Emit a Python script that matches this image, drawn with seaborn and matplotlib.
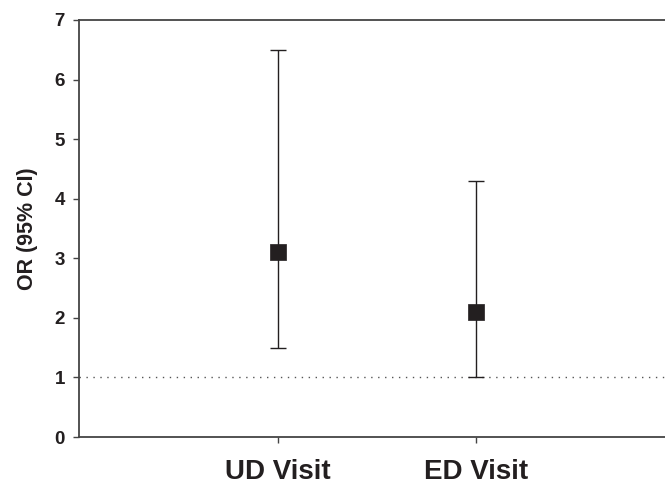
import pandas as pd
import matplotlib
matplotlib.use("Agg")
import matplotlib.pyplot as plt
import seaborn as sns

# Datos
categories = ["UD Visit", "ED Visit"]
odds_ratio = [3.1, 2.1]
ci_low = [1.5, 1.0]
ci_high = [6.5, 4.3]
y_ticks = [0, 1, 2, 3, 4, 5, 6, 7]


def main():
    sns.set_style("white")
    plt.rcParams['font.family'] = ['Liberation Sans', 'DejaVu Sans']

    df = pd.DataFrame({
        "visit": categories,
        "pos": [1, 2],
        "or": odds_ratio,
        "lo": ci_low,
        "hi": ci_high,
    })

    ink = "#231f20"
    fig = plt.figure(figsize=(6.65, 4.87), dpi=100)
    ax = fig.add_axes([79 / 665, 50 / 487, 586 / 665, 417 / 487])

    # Línea de referencia OR = 1
    ax.axhline(1, color="#555555", linestyle=(0, (1, 4)), linewidth=1.0, zorder=1)

    # Intervalos de confianza
    ax.errorbar(df["pos"], df["or"],
                yerr=[df["or"] - df["lo"], df["hi"] - df["or"]],
                fmt="none", ecolor=ink, elinewidth=1.0, capsize=5.5,
                capthick=1.0, zorder=2)

    sns.scatterplot(data=df, x="pos", y="or", marker="s", s=125,
                    color=ink, edgecolor=ink, linewidth=0.5, ax=ax, zorder=3)

    ax.set_xlim(0, 2.95)
    ax.set_ylim(0, 7)
    ax.set_xticks(df["pos"])
    ax.set_xticklabels(df["visit"], fontsize=20, fontweight="bold", color=ink)
    ax.set_yticks(y_ticks)
    ax.set_yticklabels([str(t) for t in y_ticks], fontsize=13.5,
                       fontweight="bold", color=ink)
    ax.set_xlabel("")
    ax.set_ylabel("OR (95% CI)", fontsize=15.5, fontweight="bold",
                  color=ink, labelpad=12)

    ax.tick_params(axis="x", direction="out", length=4, width=1.0,
                   color="#444444", pad=11.5, bottom=True)
    ax.tick_params(axis="y", direction="out", length=4, width=1.0,
                   color="#444444", pad=6, left=True)

    for side in ["left", "bottom", "top"]:
        ax.spines[side].set_color("#444444")
        ax.spines[side].set_linewidth(1.3)
    ax.spines["right"].set_visible(False)

    fig.savefig("out.png", dpi=100)
    plt.close(fig)


if __name__ == "__main__":
    main()
